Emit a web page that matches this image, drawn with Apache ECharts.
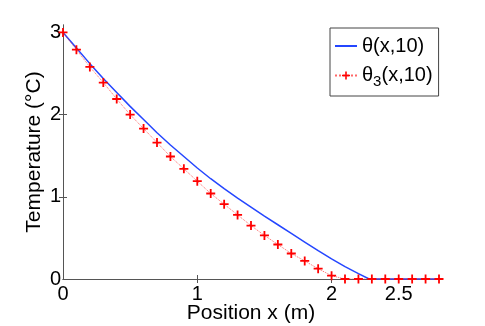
<!DOCTYPE html>
<html>
<head>
<meta charset="utf-8">
<script src="https://cdn.jsdelivr.net/npm/echarts@6/dist/echarts.min.js"></script>
<style>
  html, body { margin: 0; padding: 0; background: #fff; }
  #chart { width: 485px; height: 326px; }
</style>
</head>
<body>
<div id="chart"></div>
<script>
  // theta(x,10) - exact solution (blue solid)
  var exactX = [0, 0.1, 0.2, 0.3, 0.4, 0.5, 0.6, 0.7, 0.8, 0.9, 1.0, 1.1, 1.2, 1.3, 1.4,
                1.5, 1.6, 1.7, 1.8, 1.9, 2.0, 2.1, 2.2, 2.28, 2.8];
  var exactT = [3.0, 2.81, 2.62, 2.44, 2.27, 2.10, 1.94, 1.78, 1.63, 1.49, 1.35, 1.22, 1.10, 0.985, 0.875,
                0.765, 0.66, 0.555, 0.45, 0.345, 0.245, 0.15, 0.065, 0, 0];
  // theta_3(x,10) - approximation (red + markers, dotted)
  var approxX = [0, 0.1, 0.2, 0.3, 0.4, 0.5, 0.6, 0.7, 0.8, 0.9, 1.0, 1.1, 1.2, 1.3, 1.4,
                 1.5, 1.6, 1.7, 1.8, 1.9, 2.0, 2.1, 2.2, 2.3, 2.4, 2.5, 2.6, 2.7, 2.8];
  var approxT = [3.0, 2.79, 2.58, 2.39, 2.19, 2.0, 1.83, 1.66, 1.49, 1.34, 1.19, 1.04, 0.91, 0.78, 0.65,
                 0.53, 0.42, 0.31, 0.22, 0.125, 0.04, 0, 0, 0, 0, 0, 0, 0, 0];
  var xTicks = [0, 1, 2, 2.5];
  var yTicks = [0, 1, 2, 3];

  var font = 'Liberation Sans, Arial, Helvetica, sans-serif';
  var axisColor = '#555';

  function pairs(xs, ys) {
    var out = [];
    for (var i = 0; i < xs.length; i++) out.push([xs[i], ys[i]]);
    return out;
  }

  var plus = 'path://M4,0h2v4h4v2h-4v4h-2v-4h-4v-2h4z';

  var chart = echarts.init(document.getElementById('chart'));
  chart.setOption({
    animation: false,
    backgroundColor: '#fff',
    grid: { left: 63, right: 46, top: 25, bottom: 47, outerBoundsMode: 'none' },
    legend: {
      orient: 'vertical',
      left: 330,
      top: 28,
      padding: [8, 6, 7, 4],
      itemGap: 6,
      itemWidth: 22,
      itemHeight: 10,
      backgroundColor: '#fff',
      borderColor: '#444',
      borderWidth: 1,
      borderRadius: 0,
      textStyle: {
        fontFamily: font, fontSize: 20, color: '#000',
        rich: {
          t: { fontFamily: font, fontSize: 20, color: '#000', lineHeight: 24 },
          s: { fontFamily: font, fontSize: 15, color: '#000', lineHeight: 24, padding: [12, 0, 0, 0] }
        }
      },
      formatter: function (name) {
        if (name === 'approx') return '{t|θ}{s|3}{t|(x,10)}';
        return '{t|θ(x,10)}';
      },
      data: [{ name: 'exact', itemStyle: { opacity: 0 } }, 'approx']
    },
    xAxis: [{
      type: 'value', min: 0, max: 2.8, position: 'bottom',
      name: 'Position x (m)', nameLocation: 'middle', nameGap: 24, nameMoveOverlap: false,
      nameTextStyle: { fontFamily: font, fontSize: 21, color: '#000' },
      axisLine: { lineStyle: { color: axisColor, width: 1 } },
      axisTick: { inside: true, length: 4, customValues: xTicks, lineStyle: { color: axisColor } },
      axisLabel: { customValues: xTicks, fontFamily: font, fontSize: 20, color: '#000', margin: 5 },
      splitLine: { show: false }
    }, {
      type: 'value', min: 0, max: 2.8, position: 'top',
      axisLine: { lineStyle: { color: axisColor, width: 1 } },
      axisTick: { inside: true, length: 4, customValues: [1, 2, 2.5], lineStyle: { color: axisColor } },
      axisLabel: { show: false },
      splitLine: { show: false }
    }],
    yAxis: [{
      type: 'value', min: 0, max: 3.09, position: 'left',
      name: 'Temperature (°C)', nameLocation: 'middle', nameGap: 18, nameMoveOverlap: false,
      nameTextStyle: { fontFamily: font, fontSize: 21, color: '#000' },
      axisLine: { show: true, lineStyle: { color: axisColor, width: 1 } },
      axisTick: { show: true, inside: true, length: 4, customValues: yTicks, lineStyle: { color: axisColor } },
      axisLabel: { customValues: yTicks, fontFamily: font, fontSize: 20, color: '#000', margin: 2 },
      splitLine: { show: false }
    }, {
      type: 'value', min: 0, max: 3.09, position: 'right',
      axisLine: { show: true, lineStyle: { color: axisColor, width: 1 } },
      axisTick: { show: true, inside: true, length: 4, customValues: [1, 2], lineStyle: { color: axisColor } },
      axisLabel: { show: false },
      splitLine: { show: false }
    }],
    series: [{
      name: 'exact',
      type: 'line',
      data: pairs(exactX, exactT),
      symbol: 'none',
      clip: false,
      itemStyle: { color: '#2446ff' },
      lineStyle: { color: '#2446ff', width: 1.5 }
    }, {
      name: 'approx',
      type: 'line',
      data: pairs(approxX, approxT),
      symbol: plus,
      symbolSize: 9,
      clip: false,
      z: 3,
      itemStyle: { color: '#ff0000' },
      lineStyle: { color: 'rgba(255,40,40,0.7)', width: 1, type: 'dotted' }
    }]
  });
</script>
</body>
</html>
